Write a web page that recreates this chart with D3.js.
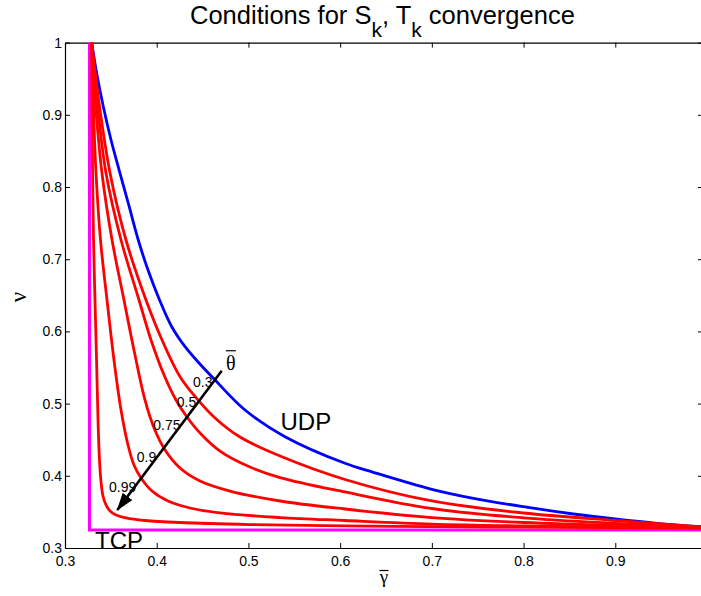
<!DOCTYPE html>
<html>
<head>
<meta charset="utf-8">
<script src="https://cdn.jsdelivr.net/npm/d3@7"></script>
<style>
  body { margin: 0; background: #fff; }
  svg { display: block; font-family: "Liberation Sans", Arial, sans-serif; }
</style>
</head>
<body>
<svg id="chart" width="701" height="596"></svg>
<script>
/* values, as [gamma, nu] pairs */
var udp = [[0.3291, 1.0], [0.3349, 0.9551], [0.3418, 0.9112], [0.3502, 0.8651], [0.3600, 0.8190],
  [0.3698, 0.7737], [0.3799, 0.7266], [0.3905, 0.6850], [0.4031, 0.6435], [0.4164, 0.6065],
  [0.4309, 0.5788], [0.4461, 0.5562], [0.4636, 0.5327], [0.4963, 0.4911], [0.5399, 0.4542],
  [0.6053, 0.4173], [0.6362, 0.4048], [0.7000, 0.3813], [0.7453, 0.3688], [0.7998, 0.3572],
  [0.8543, 0.3471], [0.8998, 0.3402], [0.9453, 0.3342], [0.9960, 0.3293]];

var theta03 = [[0.3291, 1.0], [0.3382, 0.9066], [0.3491, 0.8194], [0.3665, 0.7266], [0.3883, 0.6435],
  [0.4058, 0.5881], [0.4254, 0.5373], [0.4436, 0.5073], [0.4636, 0.4801], [0.4908, 0.4537],
  [0.5345, 0.4274], [0.6053, 0.3949], [0.7000, 0.3651], [0.7998, 0.3485], [0.8998, 0.3381],
  [0.9960, 0.3290]];

var theta05 = [[0.3291, 1.0], [0.3360, 0.9066], [0.3447, 0.8194], [0.3611, 0.7266], [0.3807, 0.6435],
  [0.3938, 0.5881], [0.4080, 0.5396], [0.4210, 0.5050], [0.4330, 0.4814], [0.4472, 0.4593],
  [0.4690, 0.4343], [0.5017, 0.4122], [0.5345, 0.3976], [0.6053, 0.3776], [0.7000, 0.3547],
  [0.7998, 0.3418], [0.8998, 0.3342], [0.9960, 0.3288]];

var theta075 = [[0.3291, 1.0], [0.3338, 0.9066], [0.3403, 0.8194], [0.3513, 0.7266], [0.3643, 0.6435],
  [0.3752, 0.5742], [0.3872, 0.5050], [0.3971, 0.4662], [0.4091, 0.4357], [0.4254, 0.4108],
  [0.4472, 0.3928], [0.4799, 0.3789], [0.5345, 0.3651], [0.6053, 0.3540], [0.7000, 0.3422],
  [0.7998, 0.3353], [0.8998, 0.3312], [0.9960, 0.3287]];

var theta09 = [[0.3291, 1.0], [0.3311, 0.9066], [0.3338, 0.8194], [0.3387, 0.7266], [0.3458, 0.6435],
  [0.3534, 0.5604], [0.3611, 0.4911], [0.3687, 0.4427], [0.3752, 0.4150], [0.3829, 0.3970],
  [0.3949, 0.3789], [0.4123, 0.3651], [0.4363, 0.3554], [0.4690, 0.3485], [0.5345, 0.3422],
  [0.6053, 0.3381], [0.7000, 0.3332], [0.7998, 0.3305], [0.8998, 0.3288], [0.9960, 0.3280]];

var theta099 = [[0.3291, 1.0], [0.3294, 0.9066], [0.3301, 0.8194], [0.3311, 0.7266], [0.3327, 0.6435],
  [0.3344, 0.5604], [0.3360, 0.4773], [0.3376, 0.4219], [0.3393, 0.3914], [0.3414, 0.3720],
  [0.3447, 0.3596], [0.3491, 0.3512], [0.3556, 0.3457], [0.3665, 0.3416], [0.3872, 0.3381],
  [0.4254, 0.3353], [0.5017, 0.3325], [0.6053, 0.3307], [0.7000, 0.3296], [0.7998, 0.3288],
  [0.8998, 0.3281], [0.9960, 0.3277]];

var tcp = [[0.3267, 1.0], [0.3267, 0.3249], [1.0, 0.3249]];

var redCurves = [theta03, theta05, theta075, theta09, theta099];
var thetaNames = ["0.3", "0.5", "0.75", "0.9", "0.99"];
var thetaNamePos = [[0.4396, 0.5234], [0.4218, 0.4957], [0.3963, 0.4634], [0.3782, 0.4195], [0.3480, 0.3780]];
var arrowFrom = [0.4709, 0.5456], arrowTo = [0.3570, 0.3526];

var xTicks = [0.3, 0.4, 0.5, 0.6, 0.7, 0.8, 0.9];
var yTicks = [0.3, 0.4, 0.5, 0.6, 0.7, 0.8, 0.9, 1.0];

var x = d3.scaleLinear().domain([0.3, 1.0]).range([65, 707]);
var y = d3.scaleLinear().domain([0.3, 1.0]).range([548, 42.6]);

var svg = d3.select("#chart");
svg.append("rect").attr("width", 701).attr("height", 596).attr("fill", "#fff");

function fmt(d) { return d === 1 ? "1" : d3.format(".1f")(d); }

/* axes box, ticks pointing inward like matlab */
function styleAxis(g) {
  g.selectAll("path.domain").attr("stroke", "#000").attr("stroke-width", 1.2);
  g.selectAll(".tick line").attr("stroke", "#000");
  g.selectAll("text").attr("fill", "#000").style("font-size", "14px")
    .style("font-family", '"Liberation Sans", Arial, sans-serif');
}

svg.append("g").attr("transform", "translate(0,548)")
  .call(d3.axisBottom(x).tickValues(xTicks).tickSizeInner(-5).tickSizeOuter(0).tickPadding(8.5).tickFormat(fmt))
  .call(styleAxis);
svg.append("g").attr("transform", "translate(0,42.6)")
  .call(d3.axisTop(x).tickValues(xTicks).tickSizeInner(-5).tickSizeOuter(0).tickFormat(""))
  .call(styleAxis);
svg.append("g").attr("transform", "translate(65,0)")
  .call(d3.axisLeft(y).tickValues(yTicks).tickSizeInner(-5).tickSizeOuter(0).tickPadding(3).tickFormat(fmt))
  .call(styleAxis);
svg.append("g").attr("transform", "translate(707,0)")
  .call(d3.axisRight(y).tickValues(yTicks).tickSizeInner(-9).tickSizeOuter(0).tickFormat(""))
  .call(styleAxis);

var smooth = d3.line().x(function(d) { return x(d[0]); }).y(function(d) { return y(d[1]); })
  .curve(d3.curveCatmullRom.alpha(0.5));
var straight = d3.line().x(function(d) { return x(d[0]); }).y(function(d) { return y(d[1]); });

svg.append("path").datum(tcp).attr("d", straight)
  .attr("fill", "none").attr("stroke", "#ff00ff").attr("stroke-width", 3);

svg.append("path").datum(udp).attr("d", smooth)
  .attr("fill", "none").attr("stroke", "#0000ff").attr("stroke-width", 2.8);

svg.selectAll("path.red").data(redCurves).enter().append("path")
  .attr("class", "red").attr("d", smooth)
  .attr("fill", "none").attr("stroke", "#ff0000").attr("stroke-width", 2.8);

/* theta labels and arrow */
svg.selectAll("text.theta").data(thetaNames).enter().append("text")
  .attr("class", "theta")
  .attr("x", function(d, i) { return x(thetaNamePos[i][0]); })
  .attr("y", function(d, i) { return y(thetaNamePos[i][1]); })
  .style("font-size", "14px").attr("fill", "#000")
  .text(function(d) { return d; });

svg.append("defs").append("marker")
  .attr("id", "head").attr("markerUnits", "userSpaceOnUse")
  .attr("markerWidth", 18).attr("markerHeight", 12)
  .attr("refX", 17).attr("refY", 6).attr("orient", "auto")
  .append("path").attr("d", "M0,0L18,6L0,12z").attr("fill", "#000");

svg.append("line")
  .attr("x1", x(arrowFrom[0])).attr("y1", y(arrowFrom[1]))
  .attr("x2", x(arrowTo[0])).attr("y2", y(arrowTo[1]))
  .attr("stroke", "#000").attr("stroke-width", 2.6)
  .attr("marker-end", "url(#head)");

/* symbol with an overbar */
function barred(ch, cx, base, size, barUp, barW) {
  svg.append("text").attr("x", cx).attr("y", base).attr("text-anchor", "middle")
    .style("font-family", '"Liberation Serif", "Times New Roman", serif')
    .style("font-size", size + "px").attr("fill", "#000").text(ch);
  svg.append("line").attr("x1", cx - barW / 2).attr("x2", cx + barW / 2)
    .attr("y1", base - barUp).attr("y2", base - barUp)
    .attr("stroke", "#000").attr("stroke-width", 1.2);
}
barred("θ", x(0.4808), y(0.5465), 20, 19.3, 10);
barred("γ", 384, 583, 19, 12.5, 9);

svg.append("text")
  .attr("transform", "translate(26,297) rotate(-90)")
  .attr("text-anchor", "middle")
  .style("font-family", '"Liberation Serif", "Times New Roman", serif')
  .style("font-size", "23px").attr("fill", "#000").text("ν");

svg.append("text").attr("x", x(0.5350)).attr("y", y(0.4634))
  .style("font-size", "24px").attr("fill", "#000").text("UDP");
svg.append("text").attr("x", x(0.3327)).attr("y", y(0.2986))
  .style("font-size", "24px").attr("fill", "#000").text("TCP");

/* title with subscripts */
var title = svg.append("text").attr("x", 190).attr("y", 24)
  .style("font-size", "25.5px").attr("fill", "#000");
title.append("tspan").text("Conditions for S");
title.append("tspan").attr("dy", 12.7).style("font-size", "21px").text("k");
title.append("tspan").attr("dy", -12.7).text(", T");
title.append("tspan").attr("dy", 12.7).style("font-size", "21px").text("k");
title.append("tspan").attr("dy", -12.7).text(" convergence");
</script>
</body>
</html>
